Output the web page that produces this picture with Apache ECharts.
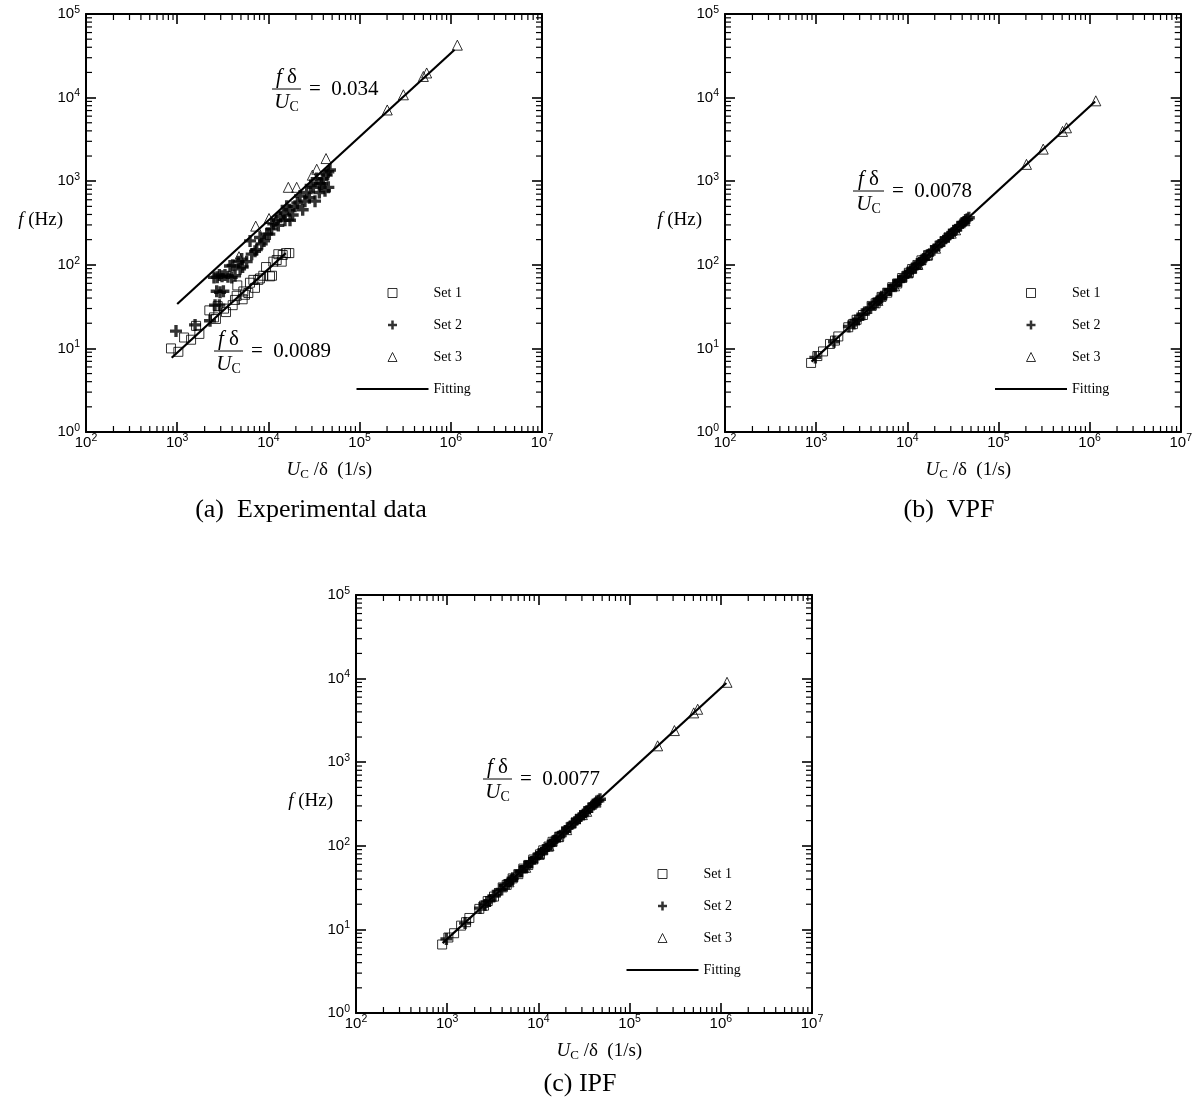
<!DOCTYPE html>
<html>
<head>
<meta charset="utf-8">
<title>Strouhal scaling of f versus U_C/δ</title>
<script src="https://cdn.jsdelivr.net/npm/echarts@6/dist/echarts.min.js"></script>
<style>
  html, body { margin: 0; padding: 0; background: #fff; }
  #chart { width: 1195px; height: 1109px; }
</style>
</head>
<body>
<div id="chart"></div>
<script>
// ---- axis extents and tick values ----
const X_MIN = 1e2, X_MAX = 1e7;
const Y_MIN = 1, Y_MAX = 1e5;
const xDecades = [1e2, 1e3, 1e4, 1e5, 1e6];
const yDecades = [1e0, 1e1, 1e2, 1e3, 1e4];
const minorSteps = [2, 3, 4, 5, 6, 7, 8, 9];
const legendNames = ['Set 1', 'Set 2', 'Set 3', 'Fitting'];

// ---- (a) experimental data: [U_C/δ (1/s), f (Hz)] ----
const expSet1 = [
  [855, 10.0], [1030, 9.1], [1190, 13.5], [1420, 12.7], [1610, 18.6], [1750, 14.9],
  [2250, 28.5], [2530, 23.5], [2660, 22.5], [2780, 32.0], [3260, 29.9], [3430, 27.2],
  [4060, 32.9], [4300, 38.0], [4490, 42.6], [4560, 56.7], [5220, 38.7], [5540, 43.8],
  [6020, 46.0], [5310, 48.0], [6280, 61.0], [6840, 66.0], [7130, 53.0], [7750, 66.0],
  [8090, 68.7], [8790, 74.0], [9420, 94.0], [10420, 72.8], [10950, 74.0], [11320, 109],
  [12330, 114], [12850, 134], [14000, 109], [14350, 131], [15600, 138], [16950, 138]
];
const expSet2 = [
  [970, 16.1], [1570, 19.1], [2290, 21.4], [2600, 32.9], [2710, 48.2], [2900, 32.9],
  [2950, 47.0], [3210, 48.2], [2530, 70.7], [2750, 71.0], [2900, 75.5], [3100, 73.0],
  [3340, 75.5], [3600, 72.0], [3790, 96.8], [3960, 70.7], [4310, 74.0], [4060, 98.6],
  [4680, 109], [4890, 89.7], [5100, 117], [5220, 94.2], [5780, 109], [6290, 193],
  [6560, 134], [7130, 145], [7450, 152], [8090, 212], [8450, 178], [8960, 193],
  [9580, 233], [10240, 233], [10860, 269], [11320, 310], [12120, 341], [12850, 296],
  [13640, 376], [14570, 413], [15200, 341], [15860, 500], [16950, 455], [17250, 341],
  [18460, 394], [19580, 500], [20770, 550], [22200, 665], [23770, 455], [25180, 577],
  [26290, 732], [28110, 634], [29090, 887], [31120, 845], [32450, 577], [33870, 1074],
  [36170, 732], [36800, 931], [38400, 931], [40000, 1074], [41760, 769], [43540, 1180],
  [45420, 1297], [45420, 845], [47350, 1361]
];
const expSet3 = [
  [4760, 125], [7260, 290], [10160, 358], [13070, 394], [16530, 845], [20420, 845],
  [30340, 1180], [33870, 1390], [42850, 1866], [201000, 7110], [302000, 10800],
  [500000, 17900], [544000, 19700], [1180000, 42400]
];
const expFitRatio = [0.034, 0.0089];
const expFitRange = [[1000, 1100000], [870, 15500]];

// ---- (b) VPF ----
const vpfSet1 = [
  [880, 6.7], [1030, 8.1], [1190, 9.2], [1420, 11.3], [1610, 12.4], [1750, 13.9],
  [2250, 17.9], [2530, 19.5], [2780, 22.0], [3260, 25.1], [4060, 32.2], [4490, 34.6],
  [5220, 41.3], [6020, 46.4], [6840, 54.0], [7750, 59.8], [8790, 69.5], [10400, 80.2],
  [11300, 89.0], [12900, 99.5], [14300, 113.0], [16900, 130.5]
];
const vpfSet2 = [
  [980, 7.8], [1570, 12.0], [2290, 18.3], [2600, 19.9], [2710, 21.6], [2900, 22.2],
  [3210, 25.6], [3340, 25.7], [3790, 30.2], [3960, 30.4], [4300, 34.1], [4680, 36.0],
  [4890, 38.8], [5100, 39.2], [5220, 41.4], [5780, 44.5], [6290, 49.9], [6560, 50.4],
  [7130, 56.5], [7450, 57.3], [8090, 64.0], [8450, 65.0], [8960, 70.9], [9580, 73.8],
  [10240, 81.0], [10860, 83.6], [11320, 89.5], [12120, 93.4], [12850, 101.5], [13640, 105.2],
  [14570, 115.0], [15200, 117.2], [15860, 125.2], [16950, 130.6], [18460, 145.8], [19580, 150.9],
  [20770, 164.0], [22200, 171.1], [23770, 187.7], [25180, 194.0], [26290, 207.6], [28110, 216.6],
  [29090, 229.7], [31120, 239.8], [32450, 256.2], [33870, 261.0], [36170, 285.6], [38400, 295.9],
  [40000, 315.8], [41760, 321.8], [43540, 343.8], [45420, 350.0], [47350, 365.0]
];
const vpfSet3 = [
  [4760, 37.5], [7260, 56.0], [10160, 80.0], [13070, 101.0], [16530, 130.1], [20420, 158.0],
  [30340, 239.0], [33870, 262.0], [42850, 337.0], [203000, 1590], [310000, 2420],
  [505000, 3940], [558000, 4350], [1170000, 9150]
];
const vpfFitRatio = [0.0078];
const vpfFitRange = [[890, 1150000]];

// ---- (c) IPF ----
const ipfSet1 = [
  [880, 6.6], [1030, 8.0], [1190, 9.0], [1420, 11.1], [1610, 12.2], [1750, 13.7],
  [2250, 17.6], [2530, 19.2], [2780, 21.8], [3260, 24.7], [4060, 31.8], [4490, 34.1],
  [5220, 40.8], [6020, 45.8], [6840, 53.4], [7750, 59.0], [8790, 68.6], [10400, 79.0],
  [11300, 88.2], [12900, 98.0], [14300, 111.6], [16900, 128.6]
];
const ipfSet2 = [
  [980, 7.7], [1570, 11.9], [2290, 18.0], [2600, 19.6], [2710, 21.3], [2900, 21.9],
  [3210, 25.2], [3340, 25.3], [3790, 29.8], [3960, 30.0], [4300, 33.7], [4680, 35.5],
  [4890, 38.3], [5100, 38.7], [5220, 40.9], [5780, 43.9], [6290, 49.2], [6560, 49.8],
  [7130, 55.8], [7450, 56.6], [8090, 63.2], [8450, 64.2], [8960, 70.0], [9580, 72.8],
  [10240, 80.0], [10860, 82.5], [11320, 88.4], [12120, 92.1], [12850, 100.3], [13640, 103.7],
  [14570, 113.8], [15200, 115.6], [15860, 123.8], [16950, 128.9], [18460, 144.0], [19580, 148.9],
  [20770, 162.0], [22200, 168.8], [23770, 185.5], [25180, 191.5], [26290, 205.0], [28110, 213.8],
  [29090, 226.9], [31120, 236.7], [32450, 253.0], [33870, 257.6], [36170, 282.0], [38400, 292.1],
  [40000, 311.8], [41760, 317.7], [43540, 339.5], [45420, 345.4], [47350, 360.2]
];
const ipfSet3 = [
  [4760, 37.1], [7260, 55.3], [10160, 79.0], [13070, 99.7], [16530, 128.5], [20420, 156.0],
  [30340, 236.0], [33870, 258.5], [42850, 333.0], [203000, 1570], [310000, 2390],
  [505000, 3890], [558000, 4300], [1170000, 9030]
];
const ipfFitRatio = [0.0077];
const ipfFitRange = [[890, 1150000]];

// ---- fonts, symbols and shared styles ----
const SERIF = 'Liberation Serif';
const SANS = 'Liberation Sans';
const INK = '#000';
const HOLLOW = 'rgba(255,255,255,0)';
const squarePath = 'path://M0,0H10V10H0Z';
const trianglePath = 'path://M5,0L10,10H0Z';
const crossPath = 'path://M3.6,0H6.4V3.6H10V6.4H6.4V10H3.6V6.4H0V3.6H3.6Z';
const dashPath = 'path://M0,0H72V2.2H0Z';

// ---- layout of the three panels ----
const panels = [
  {
    grid: { left: 86, top: 14, width: 456, height: 418 },
    sets: [expSet1, expSet2, expSet3], ratio: expFitRatio, range: expFitRange,
    labels: ['0.034', '0.0089'],
    fracs: [{ x0: 272, x1: 301, y: 89 }, { x0: 214, x1: 243, y: 351 }],
    legend: { left: 351.5, top: 281 },
    caption: { text: '(a)  Experimental data', x: 311, y: 510 }
  },
  {
    grid: { left: 725, top: 14, width: 456, height: 418 },
    sets: [vpfSet1, vpfSet2, vpfSet3], ratio: vpfFitRatio, range: vpfFitRange,
    labels: ['0.0078'],
    fracs: [{ x0: 853, x1: 884, y: 191 }],
    legend: { left: 990, top: 281 },
    caption: { text: '(b)  VPF', x: 949, y: 510 }
  },
  {
    grid: { left: 356, top: 595, width: 456, height: 418 },
    sets: [ipfSet1, ipfSet2, ipfSet3], ratio: ipfFitRatio, range: ipfFitRange,
    labels: ['0.0077'],
    fracs: [{ x0: 483, x1: 512, y: 779 }],
    legend: { left: 621.5, top: 862 },
    caption: { text: '(c) IPF', x: 580, y: 1084 }
  }
];

const xMinor = [];
xDecades.forEach(d => minorSteps.forEach(m => xMinor.push(d * m)));
const yMinor = [];
yDecades.forEach(d => minorSteps.forEach(m => yMinor.push(d * m)));

const expLabel = v => '{b|10}{s|' + Math.round(Math.log10(v)) + '}';
const tickRich = {
  b: { fontFamily: SANS, fontSize: 15, lineHeight: 19, color: INK, verticalAlign: 'middle' },
  s: { fontFamily: SANS, fontSize: 10.5, lineHeight: 10, color: INK, verticalAlign: 'top' }
};

function axisBase(gi, min, max) {
  return {
    type: 'log', logBase: 10, min: min, max: max, gridIndex: gi,
    splitLine: { show: false },
    axisLine: { show: true, onZero: false, lineStyle: { color: INK, width: 2 } },
    axisTick: { show: true, inside: true, length: 10, lineStyle: { color: INK, width: 1.6 } },
    axisPointer: { show: false }
  };
}

const xAxis = [], yAxis = [], grid = [], series = [], legend = [], graphic = [];

panels.forEach((p, gi) => {
  grid.push(Object.assign({ containLabel: false }, p.grid));

  xAxis.push(Object.assign(axisBase(gi, X_MIN, X_MAX), {
    position: 'bottom',
    axisLabel: { show: true, margin: 1, formatter: expLabel, rich: tickRich, showMinLabel: true, showMaxLabel: true }
  }));
  xAxis.push(Object.assign(axisBase(gi, X_MIN, X_MAX), { position: 'top', axisLabel: { show: false } }));
  yAxis.push(Object.assign(axisBase(gi, Y_MIN, Y_MAX), {
    position: 'left',
    axisLabel: { show: true, margin: 6, formatter: expLabel, rich: tickRich, showMinLabel: true, showMaxLabel: true }
  }));
  yAxis.push(Object.assign(axisBase(gi, Y_MIN, Y_MAX), { position: 'right', axisLabel: { show: false } }));

  const xi = gi * 2, yi = gi * 2;

  // minor ticks of the log axes, on all four sides, pointing inward
  series.push({
    type: 'custom', xAxisIndex: xi, yAxisIndex: yi, silent: true, clip: false, z: 1,
    data: xMinor.map(v => [v, Y_MIN]),
    renderItem: function (params, api) {
      const cs = params.coordSys;
      const x = api.coord([api.value(0), Y_MIN])[0];
      const st = { stroke: INK, lineWidth: 1.2 };
      return { type: 'group', children: [
        { type: 'line', shape: { x1: x, y1: cs.y + cs.height, x2: x, y2: cs.y + cs.height - 6 }, style: st },
        { type: 'line', shape: { x1: x, y1: cs.y, x2: x, y2: cs.y + 6 }, style: st }
      ] };
    }
  });
  series.push({
    type: 'custom', xAxisIndex: xi, yAxisIndex: yi, silent: true, clip: false, z: 1,
    data: yMinor.map(v => [X_MIN, v]),
    renderItem: function (params, api) {
      const cs = params.coordSys;
      const y = api.coord([X_MIN, api.value(1)])[1];
      const st = { stroke: INK, lineWidth: 1.2 };
      return { type: 'group', children: [
        { type: 'line', shape: { x1: cs.x, y1: y, x2: cs.x + 6, y2: y }, style: st },
        { type: 'line', shape: { x1: cs.x + cs.width, y1: y, x2: cs.x + cs.width - 6, y2: y }, style: st }
      ] };
    }
  });

  series.push({
    name: 'Set 1', type: 'scatter', xAxisIndex: xi, yAxisIndex: yi,
    symbol: 'rect', symbolSize: 9, data: p.sets[0],
    itemStyle: { color: HOLLOW, borderColor: INK, borderWidth: 1 }
  });
  series.push({
    name: 'Set 2', type: 'scatter', xAxisIndex: xi, yAxisIndex: yi,
    symbol: crossPath, symbolSize: 12, data: p.sets[1],
    itemStyle: { color: INK }
  });
  series.push({
    name: 'Set 3', type: 'scatter', xAxisIndex: xi, yAxisIndex: yi,
    symbol: 'triangle', symbolSize: 10, data: p.sets[2],
    itemStyle: { color: HOLLOW, borderColor: INK, borderWidth: 1 }
  });
  p.ratio.forEach((r, k) => {
    series.push({
      name: 'Fitting', type: 'line', xAxisIndex: xi, yAxisIndex: yi,
      symbol: 'none', silent: true,
      data: p.range[k].map(x => [x, r * x]),
      itemStyle: { color: INK },
      lineStyle: { color: INK, width: 2.2 }
    });
  });

  legend.push({
    orient: 'vertical', left: p.legend.left, top: p.legend.top,
    itemWidth: 72, itemHeight: 9, itemGap: 18, selectedMode: false,
    symbolKeepAspect: true,
    data: [
      { name: legendNames[0], icon: squarePath, itemStyle: { color: HOLLOW, borderColor: INK, borderWidth: 1 } },
      { name: legendNames[1], icon: crossPath, itemStyle: { color: INK } },
      { name: legendNames[2], icon: trianglePath, itemStyle: { color: HOLLOW, borderColor: INK, borderWidth: 1 } },
      { name: legendNames[3], icon: dashPath, itemStyle: { color: INK } }
    ],
    textStyle: { fontFamily: SERIF, fontSize: 14, color: INK }
  });

  // axis titles
  graphic.push({
    type: 'text', x: p.grid.left - 23, y: p.grid.top + 206,
    style: {
      text: '{i|f}{r| (Hz)}', align: 'right', verticalAlign: 'middle',
      rich: {
        i: { fontFamily: SERIF, fontSize: 19, fontStyle: 'italic', fill: INK },
        r: { fontFamily: SERIF, fontSize: 19, fill: INK }
      }
    }
  });
  graphic.push({
    type: 'text', x: p.grid.left + p.grid.width / 2 - 27.5, y: p.grid.top + p.grid.height + 38,
    style: {
      text: '{i|U}{c|C}{r| /δ  (1/s)}', align: 'left', verticalAlign: 'middle',
      rich: {
        i: { fontFamily: SERIF, fontSize: 19, fontStyle: 'italic', fill: INK, lineHeight: 22, verticalAlign: 'middle' },
        c: { fontFamily: SERIF, fontSize: 13, fill: INK, lineHeight: 13, verticalAlign: 'bottom' },
        r: { fontFamily: SERIF, fontSize: 19, fill: INK, lineHeight: 22, verticalAlign: 'middle' }
      }
    }
  });

  // f·δ/U_C annotations
  p.fracs.forEach((f, k) => {
    const cx = (f.x0 + f.x1) / 2;
    graphic.push({
      type: 'text', x: cx, y: f.y - 1,
      style: {
        text: '{i|f}{r| δ}', align: 'center', verticalAlign: 'bottom',
        rich: {
          i: { fontFamily: SERIF, fontSize: 21, fontStyle: 'italic', fill: INK },
          r: { fontFamily: SERIF, fontSize: 21, fill: INK }
        }
      }
    });
    graphic.push({
      type: 'line', shape: { x1: f.x0, y1: f.y, x2: f.x1, y2: f.y },
      style: { stroke: INK, lineWidth: 1 }
    });
    graphic.push({
      type: 'text', x: cx, y: f.y + 1,
      style: {
        text: '{i|U}{c|C}', align: 'center', verticalAlign: 'top',
        rich: {
          i: { fontFamily: SERIF, fontSize: 21, fontStyle: 'italic', fill: INK, lineHeight: 24, verticalAlign: 'middle' },
          c: { fontFamily: SERIF, fontSize: 14, fill: INK, lineHeight: 14, verticalAlign: 'bottom' }
        }
      }
    });
    graphic.push({
      type: 'text', x: f.x1 + 8, y: f.y,
      style: {
        text: '=  ' + p.labels[k], align: 'left', verticalAlign: 'middle',
        fontFamily: SERIF, fontSize: 21, fill: INK
      }
    });
  });

  // panel caption
  graphic.push({
    type: 'text', x: p.caption.x, y: p.caption.y,
    style: {
      text: p.caption.text, align: 'center', verticalAlign: 'middle',
      fontFamily: SERIF, fontSize: 26, fill: INK
    }
  });
});

const chart = echarts.init(document.getElementById('chart'), null, { renderer: 'canvas' });
chart.setOption({
  animation: false,
  backgroundColor: '#fff',
  grid: grid,
  xAxis: xAxis,
  yAxis: yAxis,
  legend: legend,
  series: series,
  graphic: graphic
});
</script>
</body>
</html>
